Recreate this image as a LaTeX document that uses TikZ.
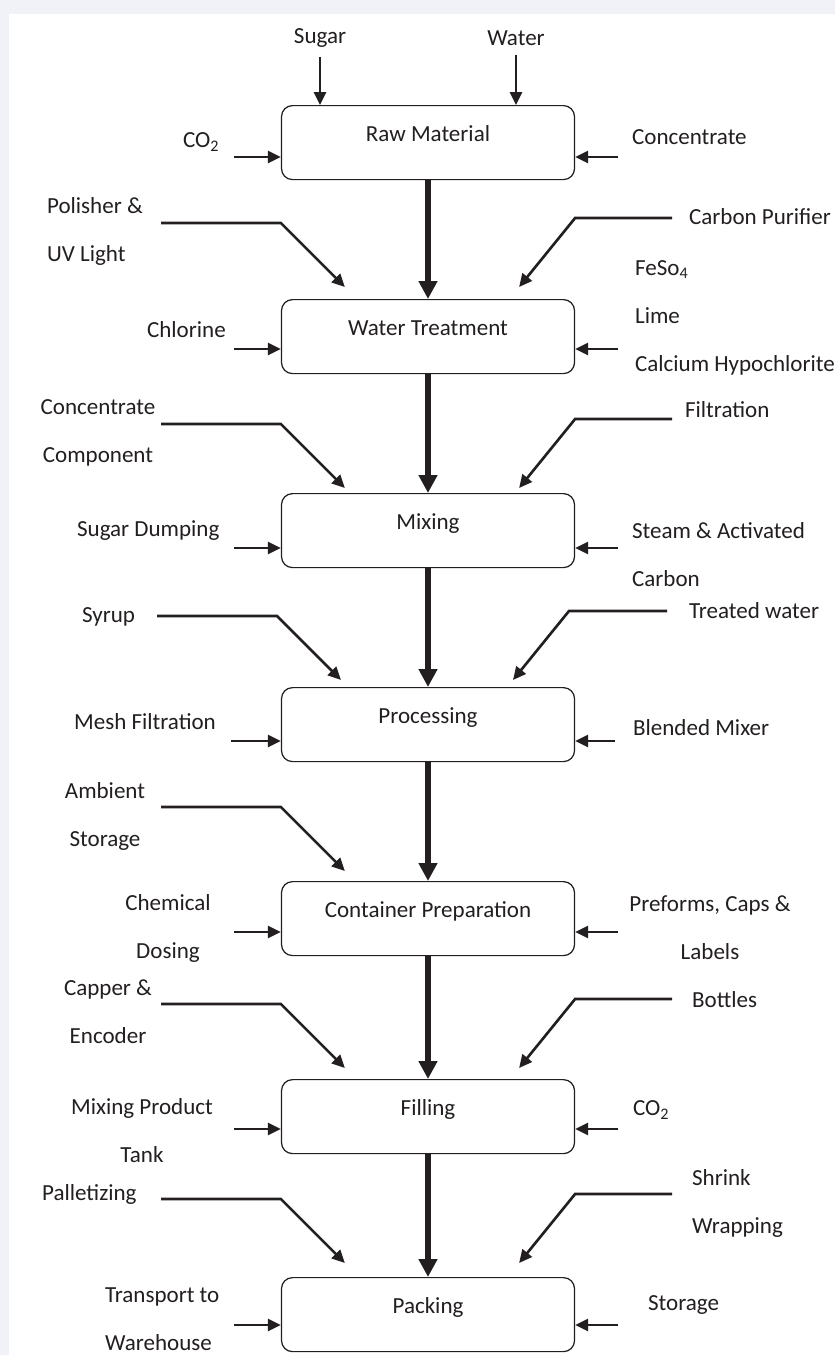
\documentclass[tikz,border=0pt]{standalone}
\usepackage{fontspec}
\setmainfont{Carlito}
\usepackage{tikz}
\usetikzlibrary{arrows.meta,positioning,calc}
\definecolor{inkDark}{RGB}{35,31,32}
\definecolor{frameGray}{RGB}{240,242,247}

\begin{document}
\begin{tikzpicture}[
  stage/.style={rectangle,draw=inkDark,line width=0.7pt,rounded corners=0.22cm,fill=white,
                minimum width=5.86cm,inner sep=0pt,text height=0.708cm,text depth=0.772cm,
                anchor=north,font=\fontsize{13.1}{27.3}\selectfont,text=inkDark},
  lbl/.style={inner sep=1pt,font=\fontsize{13.1}{27.3}\selectfont,text=inkDark},
  flow/.style={-{Triangle[length=0.36cm,width=0.36cm]},line width=3.1pt,draw=inkDark},
  feed/.style={-{Triangle[length=0.26cm,width=0.24cm]},line width=1.5pt,draw=inkDark}
]
  \useasboundingbox (0,0) rectangle (16.70,-27.10);
  \fill[frameGray](0,0) rectangle (16.70,-27.10);
  \fill[white](0.18,-0.28) rectangle (16.70,-27.10);

  \node[stage](rawmat)   at (8.56,-2.10) {Raw Material};
  \node[stage](wtreat)   at (8.56,-5.98) {Water Treatment};
  \node[stage](mixing)   at (8.56,-9.86) {Mixing};
  \node[stage](process)  at (8.56,-13.74){Processing};
  \node[stage](contprep) at (8.56,-17.62){Container Preparation};
  \node[stage](filling)  at (8.56,-21.58){Filling};
  \node[stage](packing)  at (8.56,-25.54){Packing};

  \node[lbl](sugar) at (6.40,-0.76){Sugar};
  \node[lbl](water) at (10.32,-0.76){Water};
  \node[lbl,anchor=west](co2in)   at (3.62,-2.84){CO\textsubscript{2}};
  \node[lbl,anchor=west](conc)    at (12.60,-2.74){Concentrate};
  \node[lbl,anchor=west,align=left](polish) at (0.90,-4.62){Polisher \&\\UV Light};
  \node[lbl,anchor=west](carbon)  at (13.74,-4.34){Carbon Purifier};
  \node[lbl,anchor=west](chlor)   at (2.90,-6.60){Chlorine};
  \node[lbl,anchor=west,align=left](feso) at (12.66,-6.35){FeSo\textsubscript{4}\\Lime\\Calcium Hypochlorite};
  \node[lbl,align=center](concomp) at (1.96,-8.66){Concentrate\\Component};
  \node[lbl,anchor=west](filtr)   at (13.66,-8.20){Filtration};
  \node[lbl,anchor=west](sdump)   at (1.50,-10.62){Sugar Dumping};
  \node[lbl,anchor=west,align=left](steam) at (12.60,-11.10){Steam \& Activated\\Carbon};
  \node[lbl,anchor=west](syrup)   at (1.60,-12.34){Syrup};
  \node[lbl,anchor=west](treated) at (13.74,-12.22){Treated water};
  \node[lbl,anchor=west](mesh)    at (1.44,-14.44){Mesh Filtration};
  \node[lbl,anchor=west](blend)   at (12.62,-14.56){Blended Mixer};
  \node[lbl,align=center](ambient) at (2.10,-16.32){Ambient\\Storage};
  \node[lbl,align=center](chem)    at (3.36,-18.56){Chemical\\Dosing};
  \node[lbl,align=center](preform) at (14.20,-18.56){Preforms, Caps \&\\Labels};
  \node[lbl,align=center](capper)  at (2.16,-20.24){Capper \&\\Encoder};
  \node[lbl,anchor=west](bottles) at (13.80,-20.00){Bottles};
  \node[lbl,align=center](mixtank) at (2.84,-22.62){Mixing Product\\Tank};
  \node[lbl,anchor=west](co2fill) at (12.62,-22.20){CO\textsubscript{2}};
  \node[lbl,anchor=west](pallet)  at (0.80,-23.88){Palletizing};
  \node[lbl,anchor=west,align=left](shrink) at (13.80,-24.07){Shrink\\Wrapping};
  \node[lbl,anchor=west,align=left](transp) at (2.06,-26.39){Transport to\\Warehouse};
  \node[lbl,anchor=west](storage) at (12.92,-26.10){Storage};

  \coordinate(rawL) at (4.68,-3.14);  \coordinate(rawR) at (12.36,-3.14);
  \coordinate(wtL)  at (4.68,-6.98);  \coordinate(wtR)  at (12.36,-6.98);
  \coordinate(mixL) at (4.68,-10.96); \coordinate(mixR) at (12.36,-10.96);
  \coordinate(proL) at (4.62,-14.82); \coordinate(proR) at (12.30,-14.82);
  \coordinate(conL) at (4.68,-18.64); \coordinate(conR) at (12.36,-18.64);
  \coordinate(filL) at (4.68,-22.58); \coordinate(filR) at (12.36,-22.58);
  \coordinate(pakL) at (4.68,-26.50); \coordinate(pakR) at (12.36,-26.50);

  \coordinate(polStart) at (3.22,-4.46);  \coordinate(carStart) at (13.44,-4.36);
  \coordinate(comStart) at (3.22,-8.48);  \coordinate(filStart) at (13.44,-8.38);
  \coordinate(syrStart) at (3.14,-12.32); \coordinate(treStart) at (13.34,-12.22);
  \coordinate(ambStart) at (3.22,-16.14);
  \coordinate(capStart) at (3.22,-20.08); \coordinate(botStart) at (13.44,-19.98);
  \coordinate(palStart) at (3.22,-23.98); \coordinate(shrStart) at (13.44,-23.88);

  \draw[flow](rawmat)--(wtreat);\draw[flow](wtreat)--(mixing);\draw[flow](mixing)--(process);
  \draw[flow](process)--(contprep);\draw[flow](contprep)--(filling);\draw[flow](filling)--(packing);

  \draw[feed,shorten <=4pt](sugar)--(sugar|-rawmat.north);
  \draw[feed,shorten <=4pt](water)--(water|-rawmat.north);

  \draw[feed](rawL)--(rawL-|rawmat.west);\draw[feed](rawR)--(rawR-|rawmat.east);
  \draw[feed](wtL)--(wtL-|wtreat.west);\draw[feed](wtR)--(wtR-|wtreat.east);
  \draw[feed](mixL)--(mixL-|mixing.west);\draw[feed](mixR)--(mixR-|mixing.east);
  \draw[feed](proL)--(proL-|process.west);\draw[feed](proR)--(proR-|process.east);
  \draw[feed](conL)--(conL-|contprep.west);\draw[feed](conR)--(conR-|contprep.east);
  \draw[feed](filL)--(filL-|filling.west);\draw[feed](filR)--(filR-|filling.east);
  \draw[feed](pakL)--(pakL-|packing.west);\draw[feed](pakR)--(pakR-|packing.east);

  \draw[feed](polStart)--(polStart-|wtreat.west)--++(1.28,-1.28);
  \draw[feed](carStart)--(carStart-|wtreat.east)--++(-1.12,-1.38);
  \draw[feed](comStart)--(comStart-|mixing.west)--++(1.28,-1.28);
  \draw[feed](filStart)--(filStart-|mixing.east)--++(-1.12,-1.38);
  \draw[feed](syrStart)--++(2.40,0)--++(1.28,-1.28);
  \draw[feed](treStart)--++(-1.96,0)--++(-1.12,-1.38);
  \draw[feed](ambStart)--(ambStart-|contprep.west)--++(1.28,-1.28);
  \draw[feed](capStart)--(capStart-|filling.west)--++(1.28,-1.28);
  \draw[feed](botStart)--(botStart-|filling.east)--++(-1.12,-1.38);
  \draw[feed](palStart)--(palStart-|packing.west)--++(1.28,-1.28);
  \draw[feed](shrStart)--(shrStart-|packing.east)--++(-1.12,-1.38);
\end{tikzpicture}
\end{document}
